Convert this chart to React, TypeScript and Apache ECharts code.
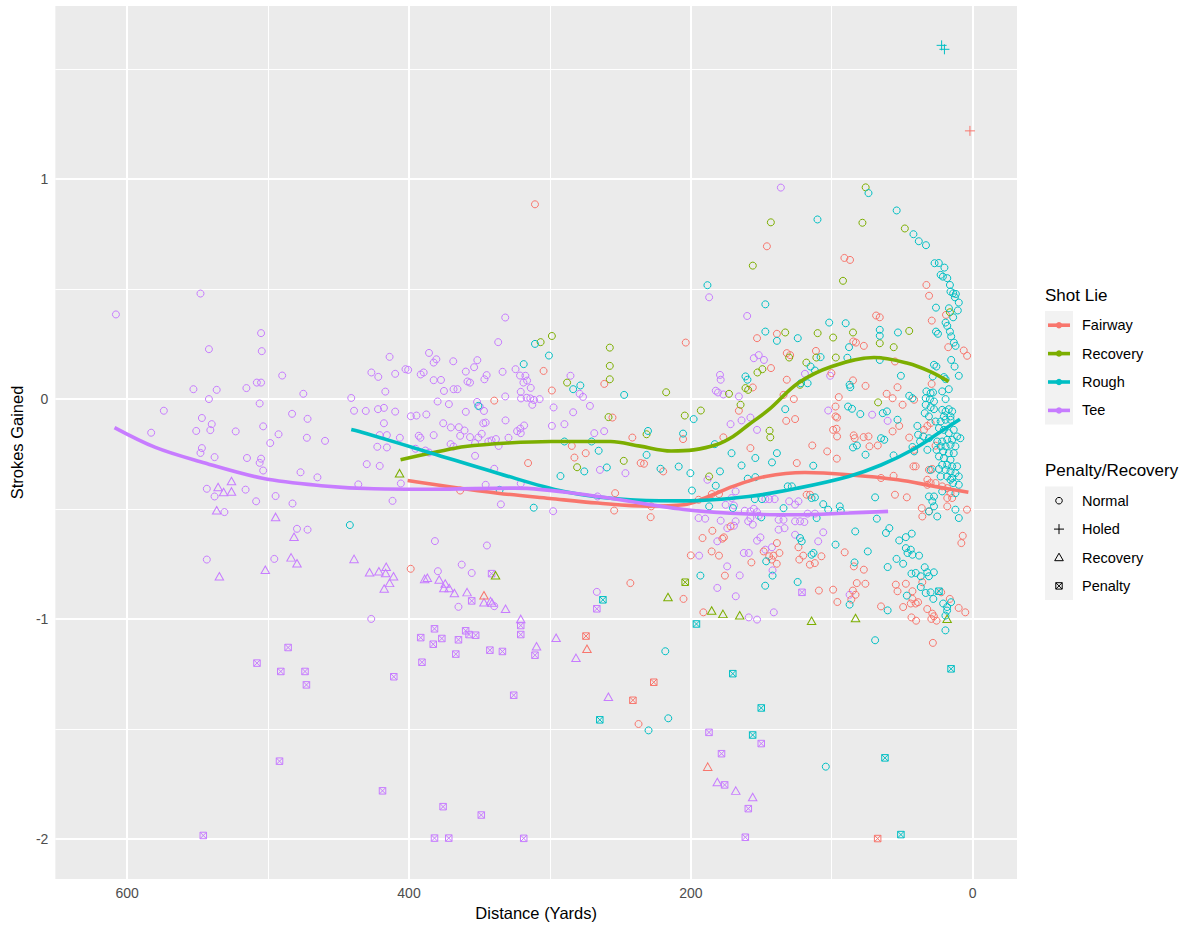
import { useEffect, useRef } from 'react';
import * as echarts from 'echarts';

const FONT = '"Liberation Sans", Arial, sans-serif';
const FAIRWAY = '#F8766D';
const RECOVERY = '#7CAE00';
const ROUGH = '#00BFC4';
const TEE = '#C77CFF';

const xTicks = [600, 400, 200, 0];
const xMinorTicks = [500, 300, 100];
const yTicks = [-2, -1, 0, 1];
const yMinorTicks = [-1.5, -0.5, 0.5, 1.5];

const lieNames = ['Fairway', 'Recovery', 'Rough', 'Tee'];
const lieColors = [FAIRWAY, RECOVERY, ROUGH, TEE];
const shotTypes = ['Normal', 'Holed', 'Recovery', 'Penalty'];

// [distance in yards, strokes gained]
const teeNormal = [
  [608, 0.385], [548, 0.48], [505, 0.3], [542, 0.227], [504.5, 0.218], [490, 0.107], [553, 0.045], [536.5, 0.042],
  [515.4, 0.05], [508, 0.075], [505, 0.075], [542, 0], [506, -0.02], [475, 0.024], [441, 0.005], [574, -0.053],
  [439, -0.053], [547, -0.086], [540, -0.114], [551, -0.145], [541, -0.141], [523, -0.147], [503.5, -0.124],
  [483, -0.067], [472, -0.09], [583, -0.153], [492.6, -0.16], [498.5, -0.2], [472.5, -0.176], [459.6, -0.19],
  [547, -0.223], [548, -0.245], [538, -0.264], [515, -0.268], [505, -0.271], [506, -0.29], [503.5, -0.325],
  [477, -0.333], [465, -0.356], [436, -0.388], [543.5, -0.408], [538, -0.443], [516, -0.412], [508.5, -0.465],
  [494.7, -0.441], [482.7, -0.475], [531, -0.514], [479.5, -0.59], [472, -0.594], [543.5, -0.73], [495.6, -0.727],
  [331.7, 0.371], [336.7, 0.259], [413.8, 0.192], [385.8, 0.21], [382.5, 0.166], [380.6, 0.181], [368.6, 0.172],
  [426.7, 0.121], [421.8, 0.101], [409.8, 0.115], [402.5, 0.136], [400.6, 0.133], [391.7, 0.112], [389.6, 0.121],
  [382.5, 0.086], [377.3, 0.087], [375.2, 0.037], [368.4, 0.045], [365.6, 0.045], [359.7, 0.125], [353.8, 0.145],
  [351.5, 0.177], [358.5, 0.08], [356.7, 0.075], [346.5, 0.09], [344.9, 0.109], [333.6, 0.124], [324.4, 0.136],
  [321.2, 0.107], [317.4, 0.106], [318.8, 0.075], [316.2, 0.084], [313.6, 0.051], [320.7, 0.033], [320.5, 0.003],
  [316.5, 0.006], [313.9, 0.003], [311.3, -0.004], [307.3, 0], [312.5, -0.026], [331.7, 0.012], [285.4, 0.106],
  [278.9, 0.024], [276.5, 0.01], [271.6, -0.031], [297.4, -0.038], [283.5, -0.06], [298.6, -0.122], [289.7, -0.114],
  [268.5, -0.155], [261.5, -0.146], [264.5, -0.322], [246.4, -0.337], [416.8, 0.034], [430.7, -0.054], [422, -0.046],
  [417.8, -0.04], [409.8, -0.057], [398.7, -0.078], [394.7, -0.075], [387.7, -0.07], [379.7, -0.011], [371.7, -0.023],
  [359.7, -0.058], [351.7, -0.013], [349.8, -0.034], [346.8, -0.054], [417.8, -0.11], [375.7, -0.11], [370.3, -0.129],
  [364.6, -0.128], [360.6, -0.143], [363.7, -0.167], [356.7, -0.173], [350.8, -0.175], [348.4, -0.158], [347.3, -0.11],
  [345.6, -0.107], [331.5, -0.097], [343.7, -0.193], [341.4, -0.188], [338.3, -0.182], [336.4, -0.213], [329.4, -0.176],
  [323.3, -0.146], [321, -0.134], [318.3, -0.12], [320.7, -0.155], [420.8, -0.164], [415.7, -0.164], [406.5, -0.176],
  [422.5, -0.217], [415.7, -0.22], [393.1, -0.167], [391.9, -0.176], [382.5, -0.164], [370.5, -0.205], [368.4, -0.216],
  [395.4, -0.226], [388.4, -0.234], [385.8, -0.243], [353.1, -0.2], [353.1, -0.258], [430, -0.296], [420.8, -0.304],
  [339.5, -0.317], [405.8, -0.384], [411.7, -0.463], [345.6, -0.39], [320.7, -0.384], [334.8, -0.479], [297.7, -0.51],
  [381.6, -0.646], [344.7, -0.666], [266.2, -0.443],
  [426.8, -1.0], [379.5, -0.783], [362.6, -0.753], [355.5, -0.791], [364.9, -0.945], [339.5, -0.942], [266.7, -0.877],
  [136.1, 0.962], [187, 0.463], [160, 0.378], [155.3, 0.186], [151.8, 0.2], [148.1, 0.178], [119, 0.115], [101.1, 0.106],
  [179.3, 0.11], [178.8, 0.088], [182.3, 0.038], [180.7, 0.03], [176.9, 0.021], [165.9, 0.012], [102.5, -0.052],
  [171.8, -0.114], [164, -0.097], [157.7, -0.084], [153, -0.14], [71.3, -0.071], [188.2, -0.367], [130.2, -0.465],
  [126, -0.48], [123.6, -0.465], [134.2, -0.549], [126, -0.556], [122.5, -0.556], [119.4, -0.559], [117.1, -0.521],
  [111.9, -0.521], [147.1, -0.455], [144.3, -0.455], [140.5, -0.455], [168.2, -0.42], [171.1, -0.45], [175.3, -0.481],
  [169.4, -0.484], [161.7, -0.508], [157.7, -0.511], [155.3, -0.499], [153, -0.514], [151.8, -0.531], [157.7, -0.541],
  [159.3, -0.556], [156, -0.571], [194.5, -0.541], [189.8, -0.544], [178.8, -0.553], [168.2, -0.556], [174.1, -0.587],
  [169.4, -0.576], [137.7, -0.549], [133.5, -0.587], [137.7, -0.594], [126, -0.617], [106, -0.606], [109.6, -0.647],
  [153, -0.644], [150.6, -0.629], [181.2, -0.647], [147.1, -0.685], [142.4, -0.674], [60.3, -0.099],
  [194.1, -0.712], [174.2, -0.761], [165.3, -0.802], [162.4, -0.7], [158.9, -0.7], [142, -0.779], [181.2, -0.859],
  [168.1, -0.897], [158.9, -0.993], [153, -1.003], [141.1, -0.97], [87.3, -0.89],
];

const teeRecovery = [
  [535.5, -0.4], [526, -0.373], [531.6, -0.423], [526, -0.42], [536.5, -0.506], [494.7, -0.536], [481.6, -0.626],
  [483.7, -0.72], [479.5, -0.747], [502, -0.776], [439, -0.727], [534.6, -0.806], [428, -0.788], [421.4, -0.783],
  [416.2, -0.763], [416.6, -0.791], [411, -0.806], [413.8, -0.836], [417.6, -0.862], [388.9, -0.818], [387, -0.813],
  [378.6, -0.821], [374.3, -0.839], [375.3, -0.859], [371.5, -0.859], [367.8, -0.882], [358.8, -0.878], [346.8, -0.924],
  [342.1, -0.919], [341, -0.927], [331.5, -0.954], [320.7, -1.0], [309.5, -1.124], [295.6, -1.086], [281.5, -1.177],
  [258.5, -1.354], [181.2, -1.742], [168.1, -1.781], [156.1, -1.81],
];

const teePenalty = [
  [341.4, -0.794], [355.5, -0.918], [320.7, -1.03], [320.7, -1.071], [391.7, -1.085], [381.9, -1.045], [382.8, -1.115],
  [376.7, -1.089], [364.9, -1.095], [359.8, -1.054], [357.4, -1.071], [352.7, -1.074], [366.8, -1.16], [342.6, -1.142],
  [333.7, -1.148], [310.6, -1.165], [390.8, -1.197], [266.7, -0.954], [485.8, -1.13], [507.9, -1.201], [491, -1.239],
  [473.8, -1.239], [472.8, -1.3], [410.8, -1.263], [325.7, -1.347], [491.9, -1.647], [418.8, -1.782], [375.8, -1.854],
  [348.7, -1.892], [546, -1.985], [381.9, -1.997], [371.8, -1.997], [318.6, -1.998], [121.1, -0.879], [187.1, -1.516],
  [150, -1.567], [178.2, -1.613], [176, -1.755], [159.2, -1.863], [161.3, -1.993],
];

const fairwayNormal = [
  [203.6, 0.257], [304.5, 0.128], [298.6, 0.039], [261.4, 0.069], [339.5, -0.007], [255.6, -0.084], [284.5, -0.213],
  [282.6, -0.266], [274.6, -0.246], [315.5, -0.291], [241.5, -0.175], [235.6, -0.291], [233.2, -0.294], [219.6, -0.329],
  [205.5, -0.182], [363.7, -0.416], [253.7, -0.428], [254.4, -0.507], [228.5, -0.537], [228.1, -0.488], [398.8, -0.772],
  [310.6, 0.886], [146, 0.695], [91, 0.642], [87, 0.633], [32.8, 0.519], [30.9, 0.47], [29, 0.357], [18.9, 0.383],
  [17.3, 0.236], [6.3, 0.221], [3.9, 0.197], [153, 0.277], [138.9, 0.297], [68.5, 0.38], [65.9, 0.372], [84.7, 0.262],
  [82.8, 0.257], [77.2, 0.242], [131.9, 0.209], [129.5, 0.2], [111.2, 0.219], [143.1, 0.141], [100.2, 0.118],
  [55.1, 0.171], [131.9, 0.088], [84.9, 0.085], [76, 0.06], [156, 0.053], [134.2, 0.019], [126.9, 0], [95, 0.009],
  [97.3, -0.034], [165.9, -0.053], [97.3, -0.079], [96.2, -0.084], [132.3, -0.099], [126, -0.091], [176.9, -0.174],
  [157.7, -0.223], [124.8, -0.291], [113.8, -0.211], [103.2, -0.238], [96.4, -0.271], [99, -0.14], [96.6, -0.135],
  [96.2, -0.17], [84.4, -0.165], [83.7, -0.178], [77.4, -0.173], [73.9, -0.17], [73.2, -0.215], [67.3, -0.211],
  [185.1, -0.432], [180, -0.432], [194.5, -0.458], [117.8, -0.435], [115.4, -0.435], [184.7, -0.599], [171.8, -0.579],
  [176.5, -0.629], [191.7, -0.632], [138.9, -0.655], [123.6, -0.674], [177.6, -0.635], [148.3, -0.693],
  [242.9, -0.837], [205.2, -0.909], [200, -0.711], [185.2, -0.693], [180, -0.712], [175.8, -0.803], [157, -0.743],
  [144.4, -0.715], [141.3, -0.712], [139, -0.749], [137.1, -0.7], [142.5, -0.73], [191.1, -0.97], [123, -0.73],
  [120.2, -0.712], [115.5, -0.753], [112, -0.746], [107.3, -0.715], [109.1, -0.871], [99, -0.867], [96, -0.923],
  [90.8, -0.697], [84.3, -0.761], [77.2, -0.776], [82.2, -0.837], [76.1, -0.84], [85, -0.871], [83.1, -0.89],
  [86.1, -0.912], [54.5, -0.844], [53.3, -0.874], [47.4, -0.84], [42.7, -0.874], [35.7, -0.833], [42.7, -0.909],
  [43.9, -0.93], [40.4, -0.93], [38.7, -0.924], [65, -0.943], [49.3, -0.946], [32.2, -0.955], [28.6, -0.976],
  [27.5, -0.988], [29.3, -1.0], [25.6, -1.008], [43.4, -0.993], [40.1, -1.008], [22.3, -0.879], [16.2, -0.909],
  [9.9, -0.95], [5.2, -0.97], [28.2, -1.109], [237.1, -1.478],
  [29.1, 0.069], [53.3, 0.054], [61, 0.024], [56.8, 0.004], [41.5, -0.003], [49.7, -0.026], [56.8, -0.147],
  [52.1, -0.122], [45, -0.175], [34.5, -0.14], [32.1, -0.122], [29.8, -0.109], [31, -0.322], [28.6, -0.318],
  [26.3, -0.212], [32.1, -0.367], [32.1, -0.39], [29.8, -0.382], [26.3, -0.382], [21.6, -0.397], [18, -0.405],
  [15.7, -0.428], [18, -0.45], [14.5, -0.45], [18, -0.488], [36.1, -0.496], [35.7, -0.534], [4, -0.503], [41.5, -0.231],
  [40.4, -0.306], [42, -0.306], [56.1, -0.349], [55.1, -0.435], [46.7, -0.447], [65, -0.359], [7, -0.622], [8, -0.655],
  [30.9, -0.511],
];
const fairwayRecovery = [[346.8, -0.892], [273.7, -1.136], [188, -1.672]];
const fairwayPenalty = [[274.4, -1.078], [226.3, -1.288], [241.1, -1.37], [67.4, -1.999]];
const fairwayHoled = [[1.9, 1.22]];

const recoveryNormal = [
  [306.6, 0.259], [298.6, 0.287], [257.5, 0.234], [257.5, 0.151], [257.5, 0.09], [287.8, 0.075], [217.5, 0.031],
  [258.4, -0.082], [204.3, -0.075], [231.4, -0.16], [247.6, -0.281], [280.7, -0.31], [75.9, 0.963], [143.2, 0.804],
  [78.2, 0.802], [48.1, 0.776], [156, 0.607], [16.1, 0.395], [133, 0.303], [110, 0.3], [99, 0.28], [84.9, 0.303],
  [92, 0.538], [65.9, 0.254], [45, 0.31], [56, 0.236], [130.2, 0.189], [110.9, 0.189], [97.1, 0.189], [149.2, 0.136],
  [152.7, 0.121], [118, 0.166], [122.5, 0.065], [172.9, 0.024], [161.2, 0.05], [159.3, 0.042], [67.1, -0.015],
  [192.9, -0.052], [164.7, -0.026], [144.1, -0.144], [143.6, -0.174], [187, -0.352],
];
const recoveryRecovery = [
  [406.7, -0.337], [338.6, -0.801], [216.2, -0.9], [185.2, -0.962], [177.2, -0.977], [165.3, -0.983], [114.3, -1.008],
  [83.1, -0.996], [18.1, -0.999],
];
const recoveryPenalty = [[204, -0.833]];

const roughNormal = [
  [442, -0.573], [310.6, 0.251], [318.6, 0.159], [300.7, 0.198], [283.5, 0.045], [278.4, 0.062], [247.3, 0.019],
  [350.8, -0.031], [289.7, -0.193], [270.4, -0.193], [265.4, -0.235], [275.6, -0.329], [259.6, -0.311], [292.5, -0.35],
  [231.4, -0.254], [230.4, -0.145], [205.5, -0.157], [198, -0.091], [221.5, -0.317], [208.6, -0.307], [200.3, -0.337],
  [199.2, -0.416], [335.7, -0.413], [311.5, -0.494], [110.1, 0.817], [73.9, 0.937], [53.9, 0.858], [42, 0.75],
  [38.2, 0.718], [33.1, 0.7], [27, 0.618], [24, 0.619], [20, 0.598], [22.7, 0.565], [21.1, 0.557], [18, 0.55],
  [16.1, 0.519], [15.7, 0.489], [13.8, 0.481], [11.9, 0.478], [12.6, 0.463], [9.8, 0.439], [16.8, 0.413],
  [10.5, 0.403], [13.8, 0.372], [19.2, 0.348], [18, 0.333], [16.1, 0.307], [15.2, 0.285], [13.3, 0.257], [12.1, 0.242],
  [15.2, 0.178], [12.8, 0.148], [26, 0.416], [26, 0.307], [24.6, 0.297], [27.4, 0.156], [25.7, 0.148], [28.3, 0.103],
  [188.2, 0.518], [147.1, 0.431], [147.1, 0.307], [138.9, 0.265], [124.1, 0.277], [101.8, 0.348], [90.1, 0.345],
  [65.9, 0.315], [65.9, 0.288], [53, 0.303], [87.7, 0.236], [107.9, 0.191], [88.9, 0.188], [115, 0.148], [111.9, 0.13],
  [65.9, 0.178], [161.2, 0.103], [159.8, 0.088], [122, 0.072], [117.1, 0.072], [87.3, 0.065], [86.8, 0.054],
  [133, -0.046], [88.4, -0.034], [85.6, -0.044], [79.7, -0.068], [183, -0.205], [171.1, -0.246], [154.2, -0.268],
  [138.9, -0.246], [142.4, -0.288], [164, -0.302], [179.3, -0.329], [159.6, -0.362], [154.2, -0.355], [182.3, -0.394],
  [113.1, -0.303], [84.9, -0.22], [82.1, -0.211], [76, -0.253], [69.2, -0.447], [68, -0.544], [83.3, -0.602],
  [97.3, -0.662], [131.2, -0.397], [128.3, -0.397], [114.3, -0.45], [111.9, -0.447], [106, -0.478], [102.5, -0.503],
  [94.3, -0.488], [93.6, -0.508], [134.2, -0.496], [110.7, -0.541], [154.6, -0.455], [149.5, -0.455], [170.1, -0.496],
  [187, -0.488], [150, -0.538], [122.5, -0.632], [121.3, -0.647],
  [193.2, -0.803], [146.5, -0.738], [142, -0.803], [147.2, -0.849], [218.1, -1.147], [114.3, -0.708], [112.9, -0.7],
  [124.2, -0.832], [83.8, -0.743], [87.3, -0.935], [69.2, -1.097], [74.4, -0.693], [60.3, -0.764], [54, -0.727],
  [49.3, -0.749], [46.2, -0.7], [42.7, -0.708], [38, -0.712], [43.4, -0.794], [40.4, -0.791], [34, -0.765],
  [32.2, -0.788], [27.5, -0.788], [36.8, -0.806], [31, -0.806], [36.8, -0.855], [33.3, -0.882], [29.8, -0.879],
  [27.9, -0.909], [46.7, -0.894], [60.3, -0.961], [20.9, -0.93], [18.1, -0.946], [15.3, -0.924], [18.1, -0.962],
  [19.3, -0.985], [19.3, -1.052], [230, -1.507], [216, -1.452], [104.2, -1.672],
  [50.9, 0.106], [9.8, 0.106], [20.4, 0.1], [19.2, 0.091], [45, 0.015], [42.7, 0.004], [32.8, 0.035], [29.8, 0.027],
  [28.1, 0.03], [33.3, 0.004], [30.3, 0], [27.4, -0.011], [33.3, -0.026], [29.8, -0.037], [27.4, -0.046], [34, -0.064],
  [31, -0.079], [21.6, 0.035], [16.9, 0.045], [19.2, 0], [21.6, -0.049], [19.2, -0.056], [16.9, -0.046], [14.5, -0.056],
  [20.4, -0.079], [15.7, -0.079], [63.8, -0.064], [60.8, -0.056], [62.7, -0.185], [65, -0.178], [53.3, -0.094],
  [39.2, -0.122], [38.7, -0.162], [35, -0.17], [37.3, -0.193], [42.7, -0.218], [41.5, -0.238], [26.3, -0.102],
  [22.7, -0.102], [19.2, -0.094], [15.7, -0.094], [23.9, -0.132], [20.4, -0.14], [16.9, -0.155], [13.4, -0.14],
  [11, -0.17], [8.7, -0.178], [14.5, -0.185], [18, -0.185], [21.6, -0.193], [25.1, -0.193], [22.7, -0.215],
  [19.2, -0.215], [15.7, -0.208], [12.2, -0.215], [25.6, -0.231], [20.9, -0.238], [16.9, -0.246], [13.4, -0.246],
  [23.9, -0.261], [20.4, -0.269], [15.7, -0.276], [21.6, -0.299], [18, -0.299], [14.5, -0.306], [11, -0.306],
  [19.2, -0.322], [15.7, -0.329], [12.2, -0.337], [22.7, -0.352], [18, -0.352], [14.5, -0.359], [9.8, -0.352],
  [9.8, -0.39], [12.2, -0.428], [21.6, -0.42], [29.8, -0.322], [23.9, -0.318], [32.1, -0.231], [31, -0.178],
  [31, -0.443], [27.4, -0.443], [28.6, -0.465], [27.4, -0.488], [31, -0.511], [25.1, -0.534], [12.2, -0.503],
  [9.8, -0.541], [56.1, -0.256], [15.7, -0.367], [13.8, -0.382], [59.1, -0.587], [61.5, -0.609], [52.1, -0.643],
  [47.4, -0.628], [43.2, -0.612], [47.4, -0.678], [43.9, -0.685],
];
const roughHoled = [[22, 1.609], [20, 1.591]];
const roughPenalty = [
  [262.4, -0.913], [264.6, -1.459], [196, -1.023], [170.2, -1.249], [150, -1.405], [156.1, -1.528], [23.9, -0.874],
  [15.3, -1.227], [62.2, -1.632], [50.9, -1.981],
];

// smoothed trend per shot lie
const fairwayTrend = [
  [401, -0.37], [370, -0.4], [337, -0.428], [300, -0.452], [266, -0.473], [230, -0.487], [205, -0.481], [190, -0.45],
  [170, -0.397], [147, -0.352], [119, -0.334], [88, -0.344], [53, -0.367], [27, -0.397], [3, -0.424],
];
const recoveryTrend = [
  [406, -0.276], [380, -0.24], [360, -0.216], [330, -0.2], [299, -0.193], [257, -0.193], [236, -0.214], [214, -0.236],
  [198, -0.231], [182, -0.208], [170, -0.17], [159, -0.117], [144, -0.045], [124, 0.072], [100, 0.148], [70, 0.189],
  [46, 0.163], [30, 0.125], [17, 0.08],
];
const roughTrend = [
  [441, -0.138], [431, -0.155], [384, -0.246], [337, -0.337], [290, -0.42], [243, -0.458], [205, -0.463],
  [159, -0.443], [124, -0.405], [88, -0.352], [65, -0.3], [42, -0.228], [23, -0.15], [9, -0.092],
];
const teeTrend = [
  [609, -0.13], [580, -0.22], [548, -0.285], [504, -0.36], [460, -0.395], [425, -0.408], [384, -0.41], [325, -0.405],
  [266, -0.443], [205, -0.502], [159, -0.523], [124, -0.526], [88, -0.518], [60, -0.511],
];

const SYM_CIRCLE = 'circle';
const SYM_TRIANGLE = 'triangle';
const SYM_PLUS = 'path://M5,0V10M0,5H10';
const SYM_PENALTY = 'path://M0,0H10V10H0ZM0,0L10,10M10,0L0,10';

function points(name: string, data: number[][], color: string, symbol: string, size: number | number[]) {
  return {
    name,
    type: 'scatter',
    data,
    symbol,
    symbolSize: size,
    silent: true,
    z: 2,
    itemStyle: { color: 'transparent', borderColor: color, borderWidth: 1, opacity: 1 },
    emphasis: { disabled: true },
  };
}

function trend(name: string, data: number[][], color: string) {
  return {
    name,
    type: 'line',
    data,
    smooth: 0.35,
    showSymbol: false,
    silent: true,
    z: 3,
    lineStyle: { color, width: 3.6 },
    emphasis: { disabled: true },
  };
}

export default function App() {
  const ref = useRef<HTMLDivElement>(null);

  useEffect(() => {
    if (!ref.current) return;
    const chart = echarts.init(ref.current, undefined, { renderer: 'svg' });

    const gridLines = [
      ...xTicks.map((v) => ({ xAxis: v, lineStyle: { width: 2 } })),
      ...xMinorTicks.map((v) => ({ xAxis: v, lineStyle: { width: 1 } })),
      ...yTicks.map((v) => ({ yAxis: v, lineStyle: { width: 2 } })),
      ...yMinorTicks.map((v) => ({ yAxis: v, lineStyle: { width: 1 } })),
    ];

    // ggplot-style legends drawn at the right of the panel
    const legend: any[] = [];
    const keyX = 1045;
    const keyW = 28;
    const rowH = 28.4;
    legend.push({
      type: 'text', x: keyX, y: 295,
      style: { text: 'Shot Lie', fill: '#000', font: `17px ${FONT}`, verticalAlign: 'middle' },
    });
    legend.push({ type: 'rect', shape: { x: keyX, y: 311, width: keyW, height: rowH * 4 }, style: { fill: '#F2F2F2' } });
    lieNames.forEach((n, i) => {
      const cy = 311 + rowH * (i + 0.5);
      legend.push({
        type: 'line', shape: { x1: keyX + 3, y1: cy, x2: keyX + keyW - 3, y2: cy },
        style: { stroke: lieColors[i], lineWidth: 3.6 },
      });
      legend.push({ type: 'circle', shape: { cx: keyX + keyW / 2, cy, r: 3.2 }, style: { fill: lieColors[i] } });
      legend.push({
        type: 'text', x: 1082, y: cy,
        style: { text: n, fill: '#000', font: `14.5px ${FONT}`, verticalAlign: 'middle' },
      });
    });

    legend.push({
      type: 'text', x: keyX, y: 470,
      style: { text: 'Penalty/Recovery', fill: '#000', font: `17px ${FONT}`, verticalAlign: 'middle' },
    });
    legend.push({ type: 'rect', shape: { x: keyX, y: 486.5, width: keyW, height: rowH * 4 }, style: { fill: '#F2F2F2' } });
    shotTypes.forEach((n, i) => {
      const cy = 486.5 + rowH * (i + 0.5);
      const cx = keyX + keyW / 2;
      const stroke = { stroke: '#000', lineWidth: 1, fill: 'none' };
      if (i === 0) legend.push({ type: 'circle', shape: { cx, cy, r: 3.3 }, style: stroke });
      if (i === 1) {
        legend.push({ type: 'line', shape: { x1: cx - 5, y1: cy, x2: cx + 5, y2: cy }, style: stroke });
        legend.push({ type: 'line', shape: { x1: cx, y1: cy - 5, x2: cx, y2: cy + 5 }, style: stroke });
      }
      if (i === 2) {
        legend.push({
          type: 'polygon',
          shape: { points: [[cx, cy - 4.3], [cx + 4.3, cy + 3.2], [cx - 4.3, cy + 3.2]] },
          style: stroke,
        });
      }
      if (i === 3) {
        legend.push({ type: 'rect', shape: { x: cx - 3.2, y: cy - 3.2, width: 6.4, height: 6.4 }, style: stroke });
        legend.push({ type: 'line', shape: { x1: cx - 3.2, y1: cy - 3.2, x2: cx + 3.2, y2: cy + 3.2 }, style: stroke });
        legend.push({ type: 'line', shape: { x1: cx + 3.2, y1: cy - 3.2, x2: cx - 3.2, y2: cy + 3.2 }, style: stroke });
      }
      legend.push({
        type: 'text', x: 1082, y: cy,
        style: { text: n, fill: '#000', font: `14.5px ${FONT}`, verticalAlign: 'middle' },
      });
    });

    const axisCommon = {
      axisLine: { show: false },
      axisTick: { show: true, length: 4.5, lineStyle: { color: '#333333', width: 1 } },
      splitLine: { show: false },
      nameLocation: 'middle',
      nameTextStyle: { color: '#000', fontSize: 16.5, fontFamily: FONT },
    };

    chart.setOption({
      animation: false,
      textStyle: { fontFamily: FONT },
      grid: {
        left: 48, right: 183, top: 6, bottom: 48,
        show: true, backgroundColor: '#EBEBEB', borderWidth: 0,
      },
      xAxis: {
        ...axisCommon,
        type: 'value',
        inverse: true,
        min: -31.5,
        max: 651,
        name: 'Distance (Yards)',
        nameGap: 23,
        axisTick: { ...axisCommon.axisTick, customValues: xTicks },
        axisLabel: {
          customValues: xTicks, color: '#4D4D4D', fontSize: 14, margin: 7, fontFamily: FONT,
          formatter: (v: number) => (v % 200 === 0 ? String(v) : ''),
        },
      },
      yAxis: {
        ...axisCommon,
        type: 'value',
        min: -2.183,
        max: 1.788,
        name: 'Strokes Gained',
        nameGap: 28,
        nameRotate: 90,
        axisTick: { ...axisCommon.axisTick, customValues: yTicks },
        axisLabel: {
          customValues: yTicks, color: '#4D4D4D', fontSize: 14, margin: 7, fontFamily: FONT,
          formatter: (v: number) => (Number.isInteger(v) ? String(v) : ''),
        },
      },
      graphic: { elements: legend },
      series: [
        {
          ...points('Tee', teeNormal, TEE, SYM_CIRCLE, 7),
          markLine: {
            silent: true,
            z: 1,
            symbol: ['none', 'none'],
            label: { show: false },
            emphasis: { disabled: true },
            lineStyle: { color: '#FFFFFF', type: 'solid', opacity: 1 },
            data: gridLines,
          },
        },
        points('Tee Recovery', teeRecovery, TEE, SYM_TRIANGLE, [8.5, 7.5]),
        points('Tee Penalty', teePenalty, TEE, SYM_PENALTY, 6.5),
        points('Fairway', fairwayNormal, FAIRWAY, SYM_CIRCLE, 7),
        points('Fairway Recovery', fairwayRecovery, FAIRWAY, SYM_TRIANGLE, [8.5, 7.5]),
        points('Fairway Penalty', fairwayPenalty, FAIRWAY, SYM_PENALTY, 6.5),
        points('Fairway Holed', fairwayHoled, FAIRWAY, SYM_PLUS, 10),
        points('Recovery', recoveryNormal, RECOVERY, SYM_CIRCLE, 7),
        points('Recovery Recovery', recoveryRecovery, RECOVERY, SYM_TRIANGLE, [8.5, 7.5]),
        points('Recovery Penalty', recoveryPenalty, RECOVERY, SYM_PENALTY, 6.5),
        points('Rough', roughNormal, ROUGH, SYM_CIRCLE, 7),
        points('Rough Holed', roughHoled, ROUGH, SYM_PLUS, 10),
        points('Rough Penalty', roughPenalty, ROUGH, SYM_PENALTY, 6.5),
        trend('Fairway trend', fairwayTrend, FAIRWAY),
        trend('Recovery trend', recoveryTrend, RECOVERY),
        trend('Rough trend', roughTrend, ROUGH),
        trend('Tee trend', teeTrend, TEE),
      ],
    });

    return () => {
      chart.dispose();
    };
  }, []);

  return (
    <div
      ref={ref}
      style={{ position: 'fixed', left: 0, top: 0, width: 1200, height: 927, background: '#FFFFFF' }}
    />
  );
}
